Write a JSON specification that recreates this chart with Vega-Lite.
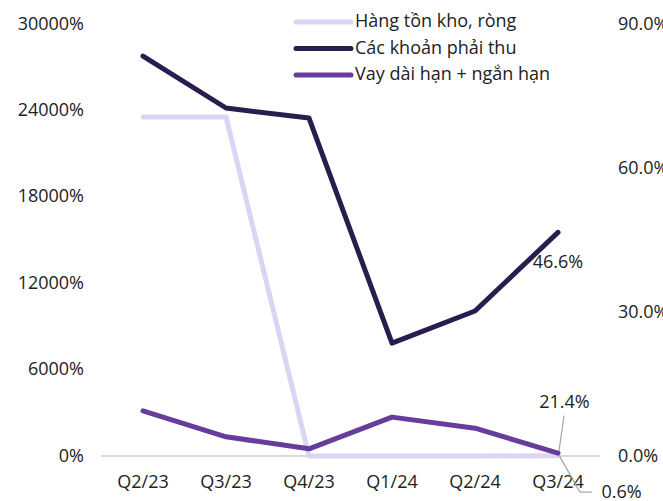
{
  "$schema": "https://vega.github.io/schema/vega-lite/v6.json",
  "width": 498,
  "height": 432,
  "autosize": {"type": "none"},
  "padding": {"left": 101.5, "top": 24, "right": 63.5, "bottom": 45},
  "background": "white",
  "config": {
    "view": {"stroke": null},
    "font": "Open Sans",
    "axis": {
      "domain": false,
      "ticks": false,
      "grid": false,
      "title": null,
      "labelFont": "Open Sans",
      "labelFontSize": 18,
      "labelColor": "#222222"
    },
    "legend": {
      "orient": "none",
      "legendX": 210,
      "legendY": -14,
      "title": null,
      "symbolType": "M-3,0H3",
      "symbolSize": 336,
      "symbolStrokeWidth": 5,
      "labelOffset": 19.5,
      "rowPadding": 4.5,
      "labelFont": "Open Sans",
      "labelFontSize": 18,
      "labelColor": "#222222",
      "labelLimit": 0,
      "padding": 0
    }
  },
  "data": {
    "values": [
      {"q": "Q2/23", "series": "Hàng tồn kho, ròng", "value": 235.4},
      {"q": "Q3/23", "series": "Hàng tồn kho, ròng", "value": 235.5},
      {"q": "Q4/23", "series": "Hàng tồn kho, ròng", "value": 0},
      {"q": "Q1/24", "series": "Hàng tồn kho, ròng", "value": 0},
      {"q": "Q2/24", "series": "Hàng tồn kho, ròng", "value": 0},
      {"q": "Q3/24", "series": "Hàng tồn kho, ròng", "value": 0.214},
      {"q": "Q2/23", "series": "Các khoản phải thu", "value": 0.833},
      {"q": "Q3/23", "series": "Các khoản phải thu", "value": 0.725},
      {"q": "Q4/23", "series": "Các khoản phải thu", "value": 0.704},
      {"q": "Q1/24", "series": "Các khoản phải thu", "value": 0.235},
      {"q": "Q2/24", "series": "Các khoản phải thu", "value": 0.302},
      {"q": "Q3/24", "series": "Các khoản phải thu", "value": 0.466},
      {"q": "Q2/23", "series": "Vay dài hạn + ngắn hạn", "value": 0.094},
      {"q": "Q3/23", "series": "Vay dài hạn + ngắn hạn", "value": 0.040},
      {"q": "Q4/23", "series": "Vay dài hạn + ngắn hạn", "value": 0.015},
      {"q": "Q1/24", "series": "Vay dài hạn + ngắn hạn", "value": 0.081},
      {"q": "Q2/24", "series": "Vay dài hạn + ngắn hạn", "value": 0.058},
      {"q": "Q3/24", "series": "Vay dài hạn + ngắn hạn", "value": 0.006}
    ]
  },
  "layer": [
    {
      "layer": [
        {
          "transform": [{"filter": "datum.series == 'Hàng tồn kho, ròng'"}],
          "mark": {"type": "line", "strokeWidth": 5, "strokeCap": "round", "strokeJoin": "round", "opacity": 0},
          "encoding": {
            "x": {"field": "q", "type": "ordinal", "sort": null, "axis": {"labelAngle": 0, "labelPadding": 17}},
            "y": {
              "field": "value",
              "type": "quantitative",
              "scale": {"domain": [0, 300]},
              "axis": {"orient": "left", "values": [0, 60, 120, 180, 240, 300], "format": ".0%", "labelPadding": 18}
            }
          }
        },
        {
          "mark": {"type": "rule", "color": "#d9d9d9", "strokeWidth": 2},
          "encoding": {"y": {"datum": 0, "type": "quantitative"}}
        },
        {
          "transform": [{"filter": "datum.series == 'Hàng tồn kho, ròng'"}],
          "mark": {"type": "line", "strokeWidth": 5, "strokeCap": "round", "strokeJoin": "round"},
          "encoding": {
            "x": {"field": "q", "type": "ordinal", "sort": null},
            "y": {"field": "value", "type": "quantitative"},
            "color": {
              "field": "series",
              "type": "nominal",
              "scale": {
                "domain": ["Hàng tồn kho, ròng", "Các khoản phải thu", "Vay dài hạn + ngắn hạn"],
                "range": ["#ddd3f4", "#2b1c4f", "#663d9b"]
              },
              "legend": {"encode": {"symbols": {"update": {"strokeCap": {"value": "round"}}}}}
            }
          }
        },
        {
          "transform": [{"filter": "datum.series == 'Hàng tồn kho, ròng' && datum.q == 'Q3/24'"}],
          "mark": {"type": "rule", "color": "#a6a6a6", "strokeWidth": 1.2, "xOffset": 1, "yOffset": -4.7, "x2Offset": 6, "y2Offset": -40},
          "encoding": {
            "x": {"field": "q", "type": "ordinal", "sort": null},
            "x2": {"field": "q"},
            "y": {"field": "value", "type": "quantitative"},
            "y2": {"field": "value"}
          }
        },
        {
          "transform": [{"filter": "datum.series == 'Hàng tồn kho, ròng' && datum.q == 'Q3/24'"}],
          "mark": {"type": "text", "fontSize": 18, "font": "Open Sans", "color": "#222222", "align": "center", "baseline": "middle", "dx": 6.5, "dy": -53},
          "encoding": {
            "x": {"field": "q", "type": "ordinal", "sort": null},
            "y": {"field": "value", "type": "quantitative"},
            "text": {"field": "value", "type": "quantitative", "format": ".1%"}
          }
        }
      ]
    },
    {
      "layer": [
        {
          "transform": [{"filter": "datum.series != 'Hàng tồn kho, ròng'"}],
          "mark": {"type": "line", "strokeWidth": 5, "strokeCap": "round", "strokeJoin": "round"},
          "encoding": {
            "x": {"field": "q", "type": "ordinal", "sort": null},
            "y": {
              "field": "value",
              "type": "quantitative",
              "scale": {"domain": [0, 0.9]},
              "axis": {"orient": "right", "values": [0, 0.3, 0.6, 0.9], "format": ".1%", "labelPadding": 18}
            },
            "color": {"field": "series", "type": "nominal"}
          }
        },
        {
          "transform": [{"filter": "datum.series == 'Các khoản phải thu' && datum.q == 'Q3/24'"}],
          "mark": {"type": "text", "fontSize": 18, "font": "Open Sans", "color": "#222222", "align": "center", "baseline": "middle", "dx": 0, "dy": 31},
          "encoding": {
            "x": {"field": "q", "type": "ordinal", "sort": null},
            "y": {"field": "value", "type": "quantitative"},
            "text": {"field": "value", "type": "quantitative", "format": ".1%"}
          }
        },
        {
          "transform": [{"filter": "datum.series == 'Vay dài hạn + ngắn hạn' && datum.q == 'Q3/24'"}],
          "mark": {"type": "rule", "color": "#a6a6a6", "strokeWidth": 1.2, "xOffset": 1, "yOffset": 2, "x2Offset": 22, "y2Offset": 39},
          "encoding": {
            "x": {"field": "q", "type": "ordinal", "sort": null},
            "x2": {"field": "q"},
            "y": {"field": "value", "type": "quantitative"},
            "y2": {"field": "value"}
          }
        },
        {
          "transform": [{"filter": "datum.series == 'Vay dài hạn + ngắn hạn' && datum.q == 'Q3/24'"}],
          "mark": {"type": "rule", "color": "#a6a6a6", "strokeWidth": 1.2, "xOffset": 22, "yOffset": 39, "x2Offset": 34, "y2Offset": 39},
          "encoding": {
            "x": {"field": "q", "type": "ordinal", "sort": null},
            "x2": {"field": "q"},
            "y": {"field": "value", "type": "quantitative"},
            "y2": {"field": "value"}
          }
        },
        {
          "transform": [{"filter": "datum.series == 'Vay dài hạn + ngắn hạn' && datum.q == 'Q3/24'"}],
          "mark": {"type": "text", "fontSize": 18, "font": "Open Sans", "color": "#222222", "align": "center", "baseline": "middle", "dx": 63.5, "dy": 40},
          "encoding": {
            "x": {"field": "q", "type": "ordinal", "sort": null},
            "y": {"field": "value", "type": "quantitative"},
            "text": {"field": "value", "type": "quantitative", "format": ".1%"}
          }
        }
      ]
    }
  ],
  "resolve": {"scale": {"y": "independent"}}
}
